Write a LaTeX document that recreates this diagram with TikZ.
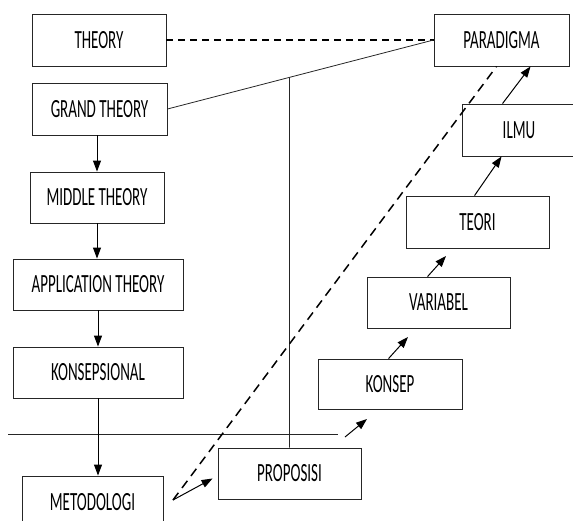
\documentclass[tikz,border=0pt]{standalone}
\usepackage{fontspec}
\setmainfont{Carlito}
\usetikzlibrary{arrows.meta,calc}

\tikzset{
  kotak/.style={draw=black!85, line width=0.9pt, minimum width=#1, minimum height=52pt,
    inner sep=0pt, font=\fontsize{15}{15}\selectfont},
  panah/.style={-{Triangle[length=11pt,width=8pt]}, line width=1pt},
  garis/.style={line width=0.8pt, black!85},
}
\newcommand{\teks}[1]{\scalebox{1}[1.75]{#1}}

\begin{document}
\begin{tikzpicture}[x=1pt,y=-1pt]
      \useasboundingbox (0,0) rectangle (573,520);
      \clip (0,0) rectangle (573,520);

      % Left column
      \node[kotak=134pt] (theory) at (99,40) {\teks{THEORY}};
      \node[kotak=135pt] (grand) at (99.5,109) {\teks{GRAND THEORY}};
      \node[kotak=134pt,minimum height=51pt] (middle) at (97,197.5) {\teks{MIDDLE THEORY}};
      \node[kotak=170pt,minimum height=51pt] (application) at (98,284.5) {\teks{APPLICATION THEORY}};
      \node[kotak=170pt,minimum height=51pt] (konsepsional) at (98,372.5) {\teks{KONSEPSIONAL}};
      \node[kotak=141pt] (metodologi) at (92.5,502) {\teks{METODOLOGI}};

      % Right staircase
      \node[kotak=135pt] (paradigma) at (501.5,40) {\teks{PARADIGMA}};
      \node[kotak=114pt] (ilmu) at (519,130) {\teks{ILMU}};
      \node[kotak=143pt] (teori) at (477.5,222) {\teks{TEORI}};
      \node[kotak=143pt,minimum height=51pt] (variabel) at (438.5,302.5) {\teks{VARIABEL}};
      \node[kotak=144pt,minimum height=50pt] (konsep) at (390,384) {\teks{KONSEP}};
      \node[kotak=143pt,minimum height=51pt] (proposisi) at (289.5,473.5) {\teks{PROPOSISI}};

      % Free arrow ends
      \coordinate (mulai) at (173,500);
      \coordinate (ujungvar) at (446,256);
      \coordinate (ujungkon) at (408,337);
      \coordinate (propa) at (345,437);
      \coordinate (propb) at (367,419);
      \coordinate (kiri) at (8,434);
      \coordinate (kanan) at (338,434);

      % Theory to paradigma
      \draw[line width=2.3pt, dash pattern=on 7pt off 5pt] (theory.east) -- (paradigma.west);
      \draw[garis] (grand.east) -- (paradigma.west);
      \draw[garis] (proposisi.north) -- (intersection of grand.east--paradigma.west and proposisi.north--proposisi.center);

      % Dividing line
      \draw[garis] (kiri) -- (kanan);

      % Dashed diagonal
      \draw[line width=1.5pt, dash pattern=on 9pt off 6pt] (mulai) -- ($(paradigma.south west)+(63,0)$);

      % Arrows down the left column
      \draw[panah] (middle.north |- grand.south) -- (middle.north);
      \draw[panah] (middle.south) -- (middle.south |- application.north);
      \draw[panah] (application.south) -- (application.south |- konsepsional.north);
      \draw[panah] (konsepsional.south) -- (konsepsional.south |- metodologi.north);

      % Arrows up the staircase
      \draw[panah] (mulai) -- ($(proposisi.west)+(-5,5)$);
      \draw[panah] (propa) -- (propb);
      \draw[panah] ($(konsep.north west)+(71,0)$) -- (ujungkon);
      \draw[panah] ($(variabel.north west)+(61,0)$) -- (ujungvar);
      \draw[panah] ($(teori.north west)+(69,0)$) -- ($(ilmu.south west)+(40,0)$);
      \draw[panah] ($(ilmu.north west)+(41,0)$) -- ($(paradigma.south west)+(97,0)$);

  \end{tikzpicture}
\end{document}
